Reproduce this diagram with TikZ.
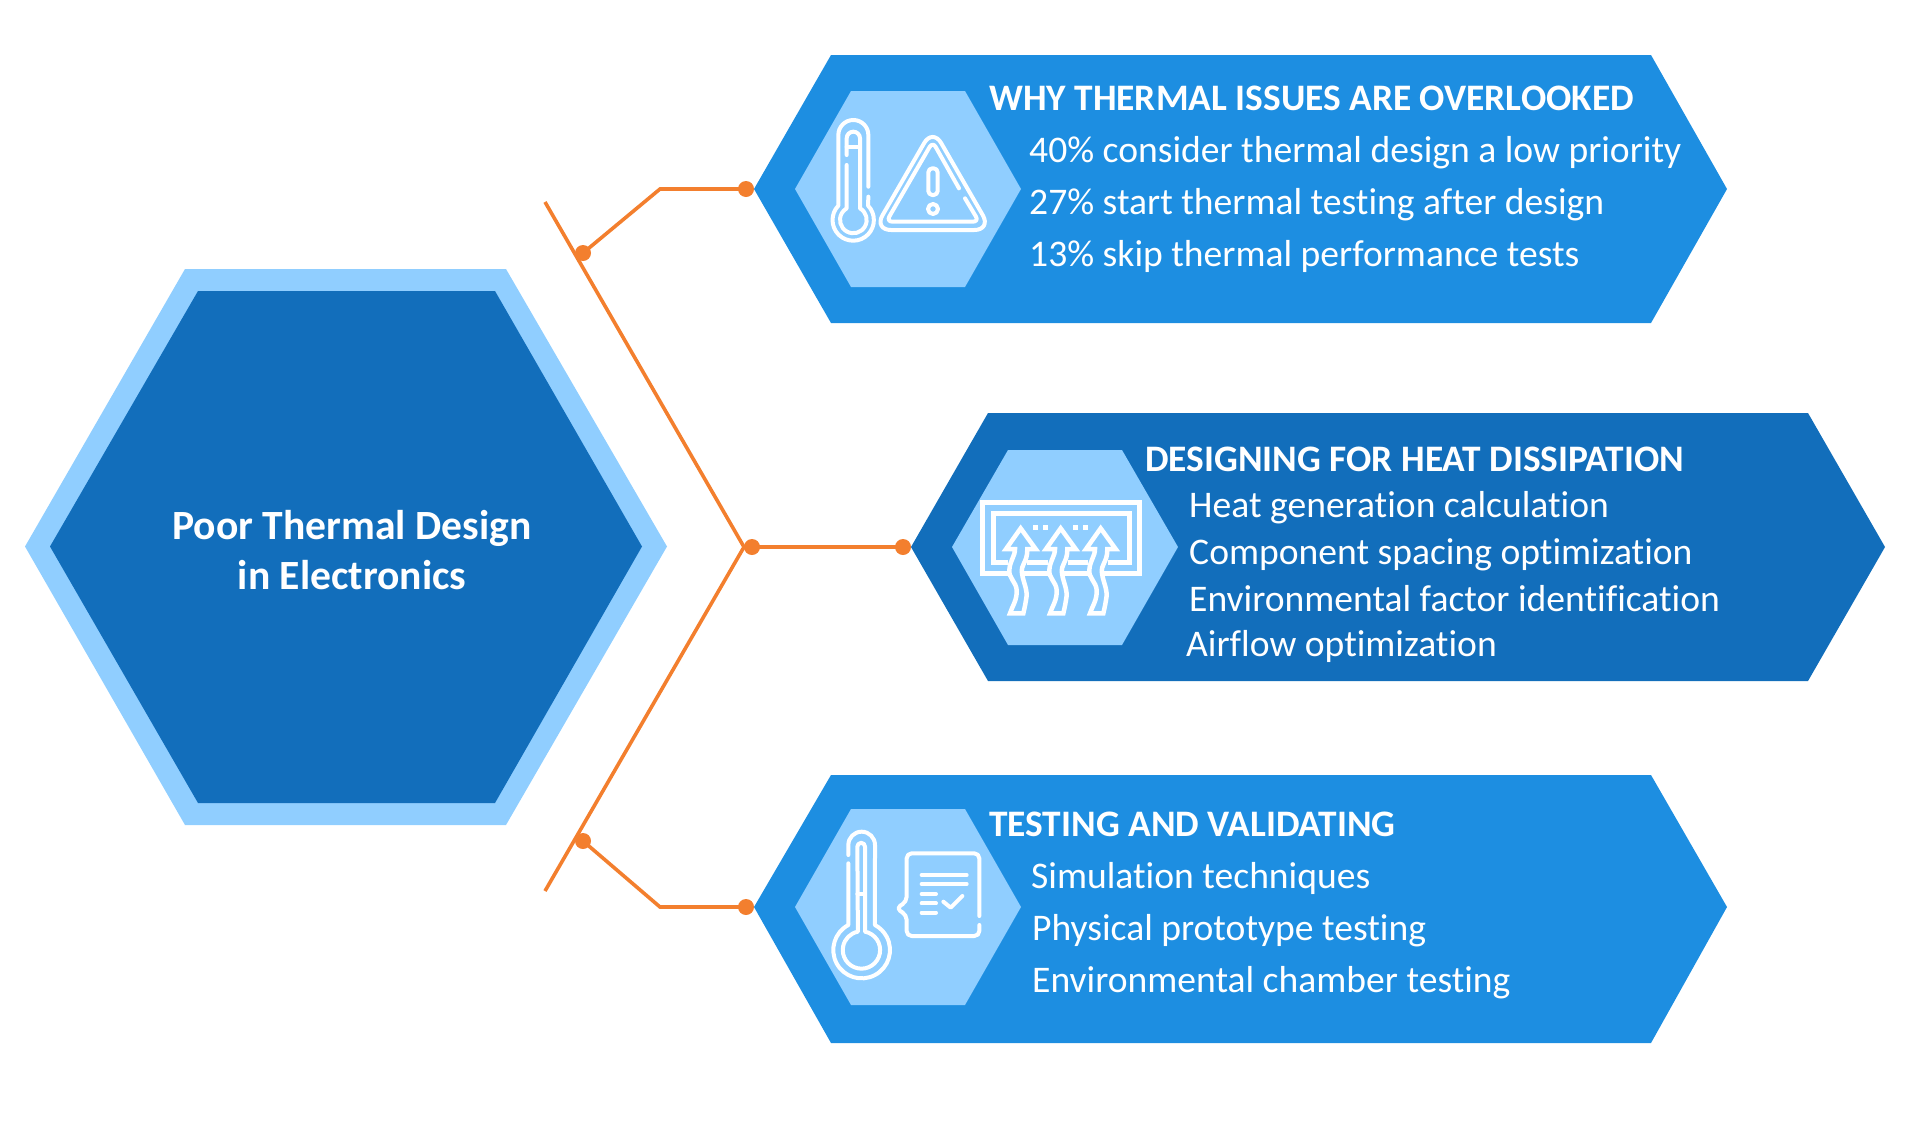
\documentclass[tikz,border=0pt]{standalone}
\usepackage{fontspec}
\setmainfont[Ligatures=NoCommon]{Carlito}
\definecolor{midblue}{HTML}{1D8EE1}
\definecolor{darkblue}{HTML}{126EBB}
\definecolor{lightblue}{HTML}{90CEFF}
\definecolor{linkorange}{HTML}{F37F2E}
\tikzset{
  hexmid/.style={fill=midblue},
  hexdark/.style={fill=darkblue},
  hexlight/.style={fill=lightblue},
  link/.style={draw=linkorange,line width=3.6pt},
  joint/.style={circle,fill=linkorange,inner sep=0pt,minimum size=16pt},
  icon/.style={draw=white,line width=4pt,line cap=round,line join=round},
  headtext/.style={anchor=base west,text=white,font=\fontsize{37.4}{42}\selectfont\bfseries,inner sep=0pt},
  bodytext/.style={anchor=base west,text=white,font=\fontsize{37.6}{42}\selectfont,inner sep=0pt},
  hubtext/.style={anchor=base,text=white,font=\fontsize{41.6}{46}\selectfont\bfseries,inner sep=0pt},
  zoomed/.style={shift={(#1)},x=.33333pt,y=-.33333pt},
}
\begin{document}
\begin{tikzpicture}[x=1pt,y=-1pt]
\useasboundingbox (0,0) rectangle (1913,1125);
% hub
\fill[lightblue] (25,546.5) -- (185,269) -- (506,269) -- (667,546.5) -- (506,825) -- (185,825) -- cycle;
\fill[hexdark] (50,546.5) -- (198,291) -- (495,291) -- (642,546.5) -- (495,803) -- (198,803) -- cycle;
\node[hubtext] (hubA) at (352,539) {Poor Thermal Design};
\node[hubtext] (hubB) at (352,589) {in Electronics};
% outer hexagons
\fill[hexmid] (754,189) -- (831,55) -- (1651,55) -- (1727,189) -- (1651,323) -- (831,323) -- cycle;
\fill[hexdark] (911,547) -- (988,413) -- (1808,413) -- (1885,547) -- (1808,681) -- (988,681) -- cycle;
\fill[hexmid] (754,907) -- (831,775) -- (1651,775) -- (1727,907) -- (1651,1043) -- (831,1043) -- cycle;
% inner hexagons
\fill[hexlight] (795,189) -- (851,91) -- (965,91) -- (1021,189) -- (965,287) -- (851,287) -- cycle;
\fill[hexlight] (952,547) -- (1008,450) -- (1122,450) -- (1178,547) -- (1122,645) -- (1008,645) -- cycle;
\fill[hexlight] (795,907) -- (851,809) -- (965,809) -- (1021,907) -- (965,1005) -- (851,1005) -- cycle;
% connectors
\coordinate (spineTop) at (545,202);
\coordinate (spineMid) at (744,547);
\coordinate (spineBot) at (545,891);
\coordinate (bendA) at (660,189);
\coordinate (bendC) at (660,907);
\node[joint] (jointA) at (583,253) {};
\node[joint] (endA) at (746,189) {};
\node[joint] (jointB) at (752,547) {};
\node[joint] (endB) at (903,547) {};
\node[joint] (jointC) at (583,841) {};
\node[joint] (endC) at (746,907) {};
\draw[link] (spineTop) -- (spineMid) -- (spineBot);
\draw[link] (jointA.center) -- (bendA) -- (endA.center);
\draw[link] (jointB.center) -- (endB.center);
\draw[link] (jointC.center) -- (bendC) -- (endC.center);
% icon 1
\begin{scope}[zoomed={740,40}]
\draw[icon] (385,440) -- (385,285) arc[start angle=0,end angle=-180,radius=45] -- (295,497) arc[start angle=224,end angle=-44,radius=62] -- (385,470);
\draw[icon] (320,345) -- (320,295) arc[start angle=180,end angle=360,radius=20] -- (360,505) arc[start angle=-60,end angle=240,radius=40] -- (320,375);
\draw[icon] (320,320) -- (360,320);
\draw[icon,rounded corners=17pt] (578,570) -- (754,570) -- (578,265) -- (402,570) -- cycle;
\draw[icon,rounded corners=6pt] (657,445) -- (578,305) -- (439,545) -- (717,545) -- (675,475);
\draw[icon,rounded corners=4pt] (565,385) rectangle (593,465);
\draw[icon] (579,507) circle[radius=15];
\end{scope}
% icon 2
\begin{scope}[zoomed={900,400}]
\draw[icon,line width=4.5pt,line cap=butt,line join=miter] (248,307) rectangle (718,520);
\draw[icon,line width=4.5pt,line cap=butt,line join=miter] (325,488) -- (280,488) -- (280,340) -- (688,340) -- (688,488) -- (625,488);
\draw[icon,line width=4.5pt,line cap=butt] (380,488) -- (445,488) (505,488) -- (565,488);
\draw[icon,line width=4.5pt,line cap=butt] (400,383) -- (415,383) (430,383) -- (445,383) (520,383) -- (535,383) (550,383) -- (565,383);
\foreach \dx in {0,120,240}{
\begin{scope}[xshift=\dx*.33333pt]
\draw[icon,line width=4.5pt,fill=lightblue,line join=miter] (362,385) -- (407,447) -- (382,447) .. controls (382,490) and (362,490) .. (366,520) .. controls (370,550) and (385,570) .. (378,600) .. controls (375,620) and (372,630) .. (370,640) -- (330,640) .. controls (336,620) and (352,600) .. (350,570) .. controls (348,545) and (326,535) .. (328,510) .. controls (330,480) and (345,470) .. (345,447) -- (318,447) -- cycle;
\end{scope}}
\end{scope}
% icon 3
\begin{scope}[zoomed={740,770}]
\draw[icon] (325,280) -- (325,465) arc[start angle=242,end angle=-62,radius=85] -- (405,225) arc[start angle=0,end angle=-180,radius=40] -- (325,255);
\draw[icon] (352,230) arc[start angle=180,end angle=360,radius=11.5] -- (375,485) arc[start angle=-79,end angle=259,radius=56] -- cycle;
\draw[icon] (352,372) -- (375,372);
\draw[icon,rounded corners=5pt] (718,438) -- (718,250) -- (500,250) -- (500,395) -- (468,415) -- (500,435) -- (500,498) -- (718,498) -- (718,465);
\draw[icon] (545,315) -- (680,315) (545,342) -- (680,342) (545,372) -- (588,372) (545,400) -- (588,400) (545,428) -- (588,428);
\draw[icon] (610,395) -- (632,413) -- (667,378);
\end{scope}
% texts
\node[headtext] (h1) at (989,110) {WHY THERMAL ISSUES ARE OVERLOOKED};
\node[bodytext] (a1) at (1029,162) {40\% consider thermal design a low priority};
\node[bodytext] (a2) at (1029,214) {27\% start thermal testing after design};
\node[bodytext] (a3) at (1029,266) {13\% skip thermal performance tests};
\node[headtext] (h2) at (1145,471) {DESIGNING FOR HEAT DISSIPATION};
\node[bodytext] (b1) at (1189,517) {Heat generation calculation};
\node[bodytext] (b2) at (1189,564) {Component spacing optimization};
\node[bodytext] (b3) at (1189,611) {Environmental factor identification};
\node[bodytext] (b4) at (1186,656) {Airflow optimization};
\node[headtext] (h3) at (989,836) {TESTING AND VALIDATING};
\node[bodytext] (c1) at (1031,888) {Simulation techniques};
\node[bodytext] (c2) at (1032,940) {Physical prototype testing};
\node[bodytext] (c3) at (1032,992) {Environmental chamber testing};
\end{tikzpicture}
\end{document}
